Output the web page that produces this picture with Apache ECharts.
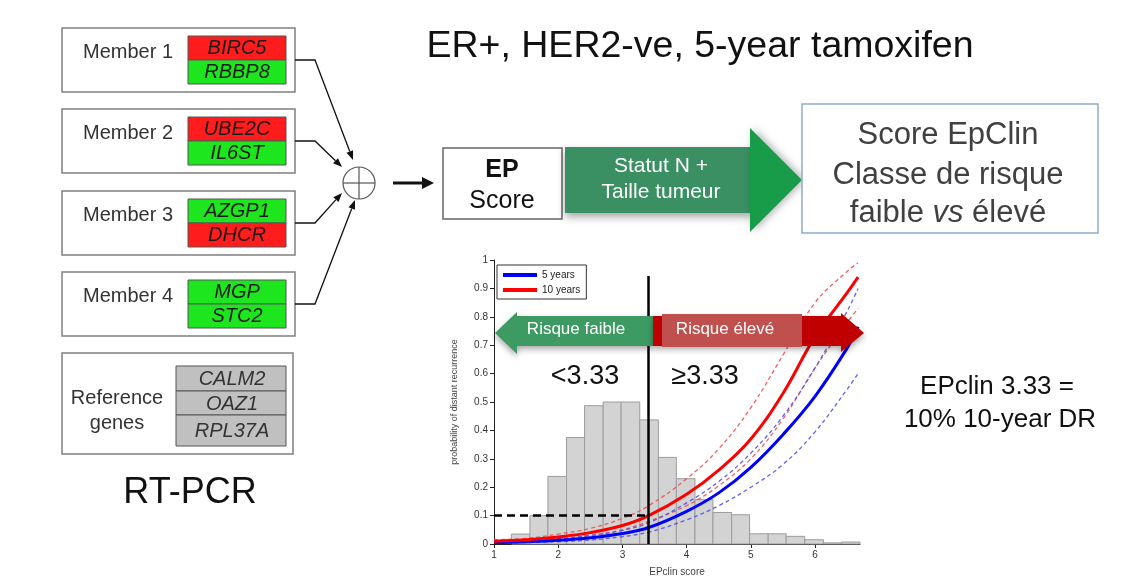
<!DOCTYPE html>
<html>
<head>
<meta charset="utf-8">
<script src="https://cdn.jsdelivr.net/npm/echarts@6/dist/echarts.min.js"></script>
<style>
  html, body { margin: 0; padding: 0; background: #fff; }
  #main { width: 1121px; height: 584px; }
</style>
</head>
<body>
<div id="main"></div>
<script>
// histogram of EPclin scores (bin edges + bar heights)
var binEdges = [1.27, 1.56, 1.84, 2.13, 2.41, 2.70, 2.98, 3.27, 3.56, 3.84, 4.13,
                4.41, 4.70, 4.98, 5.27, 5.55, 5.84, 6.13, 6.41, 6.70];
var binHeights = [0.035, 0.10, 0.238, 0.375, 0.487, 0.50, 0.50, 0.437, 0.305, 0.23,
                  0.156, 0.111, 0.103, 0.036, 0.036, 0.027, 0.015, 0.004, 0.007];

// probability of distant recurrence vs EPclin score
var curveX   = [1, 1.5, 2, 2.5, 3, 3.41, 4, 4.5, 5, 5.5, 6, 6.5, 6.67];
var dr10     = [0.010, 0.015, 0.025, 0.040, 0.065, 0.100, 0.175, 0.260, 0.370, 0.530, 0.730, 0.885, 0.940];
var dr10Up   = [0.015, 0.020, 0.035, 0.055, 0.090, 0.135, 0.230, 0.335, 0.480, 0.665, 0.850, 0.960, 0.990];
var dr10Low  = [0.007, 0.011, 0.018, 0.030, 0.050, 0.080, 0.135, 0.205, 0.300, 0.440, 0.620, 0.780, 0.830];
var dr5      = [0.005, 0.008, 0.013, 0.022, 0.037, 0.058, 0.115, 0.180, 0.270, 0.385, 0.520, 0.690, 0.765];
var dr5Up    = [0.008, 0.012, 0.019, 0.030, 0.048, 0.075, 0.145, 0.220, 0.320, 0.450, 0.620, 0.820, 0.900];
var dr5Low   = [0.003, 0.005, 0.008, 0.014, 0.026, 0.042, 0.085, 0.135, 0.200, 0.280, 0.395, 0.545, 0.600];

var cutoffScore = 3.41;
var cutoffRisk = 0.1;
var cutoffTop = 0.944;

// RT-PCR gene panel
var memberNames = ['Member 1', 'Member 2', 'Member 3', 'Member 4'];
var memberGenes = [['BIRC5', 'RBBP8'], ['UBE2C', 'IL6ST'], ['AZGP1', 'DHCR'], ['MGP', 'STC2']];
var memberUp    = [[true, false], [true, false], [false, true], [false, false]];
var refGenes    = ['CALM2', 'OAZ1', 'RPL37A'];

var FONT = "'Liberation Sans', Arial, sans-serif";
var RED = '#ff1c1c', GREEN = '#1ee61e';

function zip(xs, ys) {
  return xs.map(function (x, i) { return [x, ys[i]]; });
}

function txt(x, y, text, size, opts) {
  opts = opts || {};
  return {
    type: 'text', x: x, y: y, z: opts.z || 10,
    style: {
      text: text, fill: opts.color || '#222',
      font: (opts.style || '') + ' ' + (opts.weight || 'normal') + ' ' + size + 'px ' + FONT,
      align: opts.align || 'center', verticalAlign: 'middle', rich: opts.rich
    }
  };
}

function arrowLine(pts, width, head) {
  var n = pts.length;
  var a = pts[n - 2], b = pts[n - 1];
  var ang = Math.atan2(b[1] - a[1], b[0] - a[0]);
  var hl = head[0], hw = head[1];
  var bx = b[0] - hl * Math.cos(ang), by = b[1] - hl * Math.sin(ang);
  var line = pts.slice(0, n - 1).concat([[bx, by]]);
  return [
    { type: 'polyline', shape: { points: line }, style: { stroke: '#111', lineWidth: width, fill: null } },
    { type: 'polygon', shape: { points: [
        b,
        [bx + hw * Math.sin(ang), by - hw * Math.cos(ang)],
        [bx - hw * Math.sin(ang), by + hw * Math.cos(ang)]
      ] }, style: { fill: '#111' } }
  ];
}

var graphics = [];

// title
graphics.push(txt(700, 47, 'ER+, HER2-ve, 5-year tamoxifen', 37.5, { color: '#111' }));

// member boxes
var tops = [28, 109, 191, 272];
var tips = [[353, 160], [342, 167], [342, 193], [355, 200]];
tops.forEach(function (t, i) {
  graphics.push({ type: 'rect', shape: { x: 62, y: t, width: 233, height: 64 },
    style: { fill: '#fff', stroke: '#808080', lineWidth: 1.5 } });
  graphics.push(txt(83, t + 24, memberNames[i], 20, { align: 'left', color: '#333' }));
  for (var k = 0; k < 2; k++) {
    var gy = t + 8 + k * 24;
    graphics.push({ type: 'rect', shape: { x: 188, y: gy, width: 98, height: 24 },
      style: { fill: memberUp[i][k] ? RED : GREEN, stroke: '#555', lineWidth: 1 } });
    graphics.push(txt(237, gy + 12.5, memberGenes[i][k], 20, { style: 'italic', color: '#1a1a1a' }));
  }
  graphics = graphics.concat(arrowLine([[295, t + 32], [315, t + 32], tips[i]], 1.3, [9, 3.5]));
});

// sum circle
graphics.push({ type: 'circle', shape: { cx: 359, cy: 183, r: 16 },
  style: { fill: '#fff', stroke: '#555', lineWidth: 1.2 } });
graphics.push({ type: 'line', shape: { x1: 343, y1: 183, x2: 375, y2: 183 }, style: { stroke: '#555', lineWidth: 1.2 } });
graphics.push({ type: 'line', shape: { x1: 359, y1: 167, x2: 359, y2: 199 }, style: { stroke: '#555', lineWidth: 1.2 } });
graphics = graphics.concat(arrowLine([[393, 183], [434, 183]], 3, [12, 6]));

// reference genes
graphics.push({ type: 'rect', shape: { x: 62, y: 353, width: 231, height: 101 },
  style: { fill: '#fff', stroke: '#808080', lineWidth: 1.5 } });
graphics.push(txt(117, 398, 'Reference', 20, { color: '#333' }));
graphics.push(txt(117, 423, 'genes', 20, { color: '#333' }));
var refTops = [366, 391, 415], refH = [25, 24, 31];
refGenes.forEach(function (g, i) {
  graphics.push({ type: 'rect', shape: { x: 176, y: refTops[i], width: 110, height: refH[i] },
    style: { fill: '#c0c0c0', stroke: '#555', lineWidth: 1 } });
  graphics.push(txt(232, refTops[i] + refH[i] / 2 + 1, g, 20, { style: 'italic', color: '#333' }));
});
graphics.push(txt(190, 493, 'RT-PCR', 36, { color: '#111' }));

// EP score box
graphics.push({ type: 'rect', shape: { x: 443, y: 148, width: 119, height: 71 },
  style: { fill: '#fff', stroke: '#666', lineWidth: 1.5 } });
graphics.push(txt(502, 170, 'EP', 25, { weight: 'bold', color: '#111' }));
graphics.push(txt(502, 201, 'Score', 25, { color: '#111' }));

// Statut N arrow
graphics.push({ type: 'rect', shape: { x: 565, y: 147, width: 188, height: 66 },
  style: { fill: '#3a9062', shadowBlur: 8, shadowColor: 'rgba(0,0,0,0.35)', shadowOffsetY: 4 } });
graphics.push({ type: 'polygon', shape: { points: [[750, 128], [802, 180], [750, 232]] },
  style: { fill: '#189c4a', shadowBlur: 8, shadowColor: 'rgba(0,0,0,0.3)', shadowOffsetX: 3 } });
graphics.push(txt(661, 166, 'Statut N +', 21, { color: '#fff' }));
graphics.push(txt(661, 192, 'Taille tumeur', 21, { color: '#fff' }));

// Score EpClin box
graphics.push({ type: 'rect', shape: { x: 802, y: 104, width: 296, height: 129 },
  style: { fill: '#fff', stroke: '#8faacc', lineWidth: 1.5 } });
graphics.push(txt(948, 135, 'Score EpClin', 31, { color: '#404040' }));
graphics.push(txt(948, 175, 'Classe de risque', 31, { color: '#404040' }));
graphics.push(txt(948, 213, '{a|faible }{b|vs}{a| élevé}', 31, { color: '#404040', rich: {
  a: { fontSize: 31, fontFamily: FONT, fill: '#404040' },
  b: { fontSize: 31, fontFamily: FONT, fontStyle: 'italic', fill: '#404040' }
} }));

// risk arrows over the plot
var shadow = { shadowBlur: 6, shadowColor: 'rgba(0,0,0,0.35)', shadowOffsetY: 3 };
graphics.push({ type: 'polygon', z: 50, shape: { points: [[495, 333], [517, 312], [517, 316], [653, 316],
  [653, 346], [517, 346], [517, 354]] }, style: Object.assign({ fill: '#3e9a63' }, shadow) });
graphics.push({ type: 'polygon', z: 50, shape: { points: [[653, 316], [841, 316], [841, 313], [864, 333],
  [841, 352], [841, 346], [653, 346]] }, style: Object.assign({ fill: '#c00000' }, shadow) });
graphics.push({ type: 'rect', z: 51, shape: { x: 662, y: 314, width: 140, height: 33 },
  style: { fill: '#c0504d' } });
graphics.push(txt(576, 329, 'Risque faible', 17, { color: '#fff', z: 52 }));
graphics.push(txt(725, 329, 'Risque élevé', 17, { color: '#fff', z: 52 }));
graphics.push(txt(585, 377, '<3.33', 27, { color: '#111', z: 52 }));
graphics.push(txt(705, 377, '≥3.33', 27, { color: '#111', z: 52 }));

// side note
graphics.push(txt(997, 387, 'EPclin 3.33 =', 26, { color: '#111' }));
graphics.push(txt(1000, 420, '10% 10-year DR', 26, { color: '#111' }));

var chart = echarts.init(document.getElementById('main'));

var dashStyle = function (c) {
  return { color: c, width: 1.3, type: [4, 3], opacity: 0.9 };
};

chart.setOption({
  animation: false,
  backgroundColor: '#fff',
  textStyle: { fontFamily: FONT },
  grid: { left: 494, top: 260, right: 261, bottom: 40 },
  legend: {
    left: 497, top: 265, orient: 'vertical',
    data: ['5 years', '10 years'],
    icon: 'rect', itemWidth: 34, itemHeight: 4, itemGap: 5,
    padding: [5, 6, 4, 6],
    borderColor: '#333', borderWidth: 1, backgroundColor: '#fff',
    textStyle: { fontSize: 10, color: '#222' }
  },
  xAxis: {
    type: 'value', min: 1, max: 6.7, interval: 1,
    name: 'EPclin score', nameLocation: 'middle', nameGap: 23,
    nameTextStyle: { fontSize: 10, color: '#444' },
    axisLine: { lineStyle: { color: '#222', width: 1 } },
    axisTick: { length: 4, lineStyle: { color: '#222' } },
    axisLabel: { fontSize: 10, color: '#333', margin: 6, showMaxLabel: false },
    splitLine: { show: false }
  },
  yAxis: {
    type: 'value', min: 0, max: 1, interval: 0.1,
    name: 'probability of distant recurrence', nameLocation: 'middle', nameGap: 35,
    nameTextStyle: { fontSize: 9, color: '#444' },
    axisLine: { show: true, lineStyle: { color: '#222', width: 1 } },
    axisTick: { show: true, length: 4, lineStyle: { color: '#222' } },
    axisLabel: { fontSize: 10, color: '#333', margin: 6 },
    splitLine: { show: false }
  },
  graphic: graphics,
  series: [
    {
      type: 'custom', name: 'histogram', z: 1,
      data: binHeights.map(function (h, i) { return [binEdges[i], binEdges[i + 1], h]; }),
      encode: { x: [0, 1], y: 2 },
      renderItem: function (params, api) {
        var p0 = api.coord([api.value(0), 0]);
        var p1 = api.coord([api.value(1), api.value(2)]);
        return {
          type: 'rect',
          shape: { x: p0[0], y: p1[1], width: p1[0] - p0[0], height: p0[1] - p1[1] },
          style: { fill: '#d3d3d3', stroke: '#9c9c9c', lineWidth: 1 }
        };
      }
    },
    { type: 'line', name: '10y upper', data: zip(curveX, dr10Up), symbol: 'none', smooth: 0.4, lineStyle: dashStyle('#f05050'), z: 3 },
    { type: 'line', name: '10y lower', data: zip(curveX, dr10Low), symbol: 'none', smooth: 0.4, lineStyle: dashStyle('#f05050'), z: 3 },
    { type: 'line', name: '5y upper', data: zip(curveX, dr5Up), symbol: 'none', smooth: 0.4, lineStyle: dashStyle('#5050ee'), z: 3 },
    { type: 'line', name: '5y lower', data: zip(curveX, dr5Low), symbol: 'none', smooth: 0.4, lineStyle: dashStyle('#5050ee'), z: 3 },
    { type: 'line', name: '5 years', data: zip(curveX, dr5), symbol: 'none', smooth: 0.4, color: '#0000ff',
      lineStyle: { color: '#0000ff', width: 3 }, z: 4 },
    { type: 'line', name: '10 years', data: zip(curveX, dr10), symbol: 'none', smooth: 0.4, color: '#ff0000',
      lineStyle: { color: '#ff0000', width: 3 }, z: 4,
      markLine: {
        silent: true, symbol: 'none', label: { show: false },
        data: [
          [{ coord: [cutoffScore, 0], lineStyle: { color: '#000', width: 2.5, type: 'solid' } },
           { coord: [cutoffScore, cutoffTop] }],
          [{ coord: [1, cutoffRisk], lineStyle: { color: '#000', width: 2.5, type: [8, 5] } },
           { coord: [cutoffScore, cutoffRisk] }]
        ]
      }
    }
  ]
});
</script>
</body>
</html>
